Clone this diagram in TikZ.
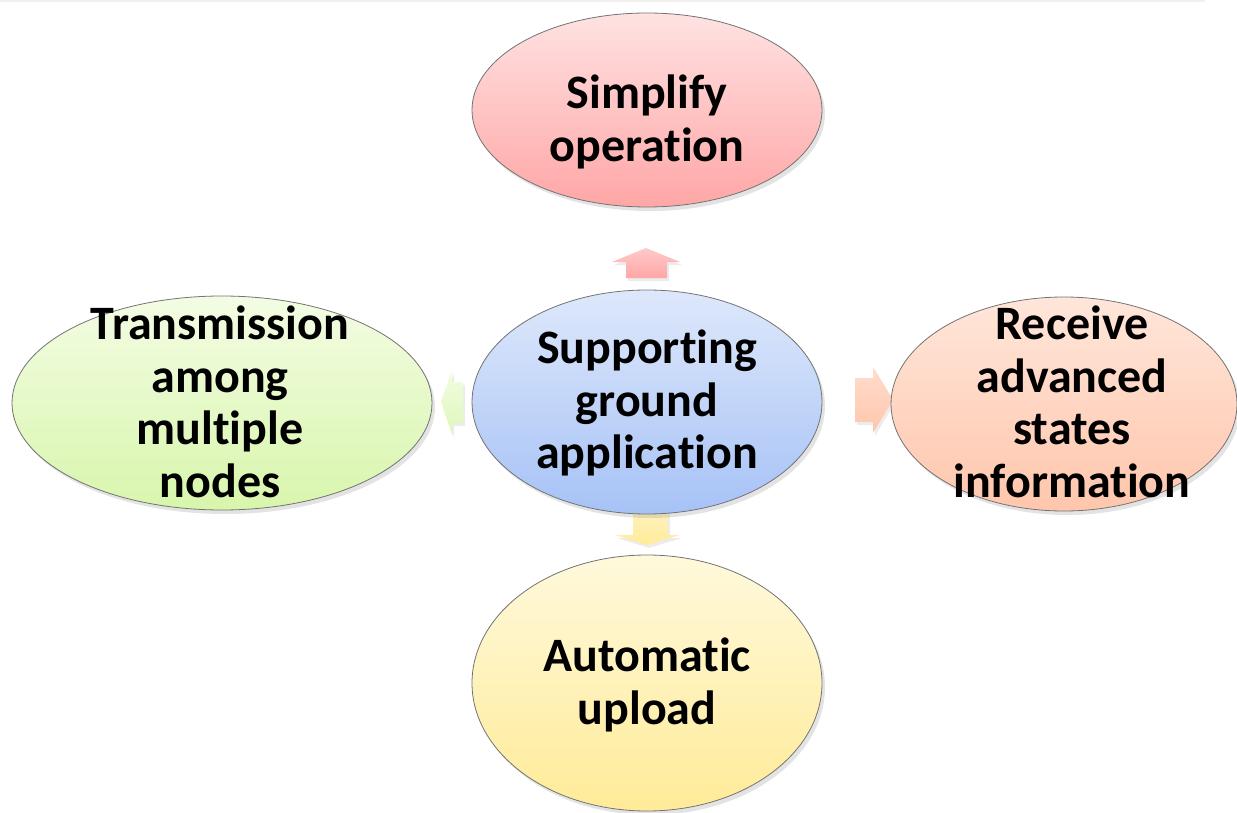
\documentclass[tikz,border=0pt]{standalone}
\usepackage{fontspec}
\setmainfont[Ligatures={NoCommon}]{Carlito}
\usetikzlibrary{shapes.geometric,shadows}
\definecolor{pinkT}{HTML}{FFE2E2}
\definecolor{pinkB}{HTML}{FFA6A6}
\definecolor{blueT}{HTML}{DEE8FB}
\definecolor{blueB}{HTML}{A6C2F6}
\definecolor{greenT}{HTML}{F3FCE4}
\definecolor{greenB}{HTML}{D8F6AC}
\definecolor{peachT}{HTML}{FFE6DA}
\definecolor{peachB}{HTML}{FFC6AC}
\definecolor{yellT}{HTML}{FFF9DC}
\definecolor{yellB}{HTML}{FFEB98}
\begin{document}
\begin{tikzpicture}[x=1pt,y=-1pt,
  bub/.style={ellipse, draw=black!55, line width=0.8pt, inner sep=0pt,
    drop shadow={opacity=0.22, shadow xshift=3pt, shadow yshift=-4pt}},
  lbl/.style={font=\bfseries\fontsize{48}{52.5}\selectfont, align=center, text=black, inner sep=0pt},
  blk/.style={draw=none, drop shadow={opacity=0.15, shadow xshift=2pt, shadow yshift=-3pt}}]
\useasboundingbox (0,0) rectangle (1237,813);
\fill[black!6] (0,0) rectangle (1205,2.5);
% block arrows (behind the ellipses)
\path[blk, top color=pinkT!60!pinkB, bottom color=pinkB]
  (626,278) -- (626,262) -- (612,262) -- (646,248) -- (680,262) -- (667,262) -- (667,278) -- cycle;
\path[blk, top color=greenT, bottom color=greenB!80!greenT]
  (463,382) -- (452,382) -- (452,370) -- (441,402) -- (452,435) -- (452,423) -- (463,423) -- cycle;
\path[blk, top color=peachT!70!peachB, bottom color=peachB]
  (855,378) -- (873,378) -- (873,367) -- (893,400) -- (873,433) -- (873,422) -- (855,422) -- cycle;
\path[blk, top color=yellT!60!yellB, bottom color=yellB]
  (633,510) -- (668,510) -- (668,535) -- (680,535) -- (647,545) -- (615,535) -- (633,535) -- cycle;
% ellipses
\node[bub, minimum width=350pt, minimum height=194pt, top color=pinkT, bottom color=pinkB] (simp) at (647,110) {};
\node[bub, minimum width=350pt, minimum height=224pt, top color=blueT, bottom color=blueB] (supp) at (647,402) {};
\node[bub, minimum width=420pt, minimum height=214pt, top color=greenT, bottom color=greenB] (trans) at (222,403) {};
\node[bub, minimum width=346pt, minimum height=214pt, top color=peachT, bottom color=peachB] (recv) at (1064,404) {};
\node[bub, minimum width=350pt, minimum height=256pt, top color=yellT, bottom color=yellB] (auto) at (647,683) {};
% labels
\node[lbl] (simpT) at (647,122) {Simplify\\operation};
\node[lbl] (suppT) at (647,403) {Supporting\\ground\\application};
\node[lbl] (transT) at (220,402) {Transmission\\among\\multiple\\nodes};
\node[lbl] (recvT) at (1072,402) {Receive\\advanced\\states\\information};
\node[lbl] (autoT) at (647,685) {Automatic\\upload};
\end{tikzpicture}
\end{document}
